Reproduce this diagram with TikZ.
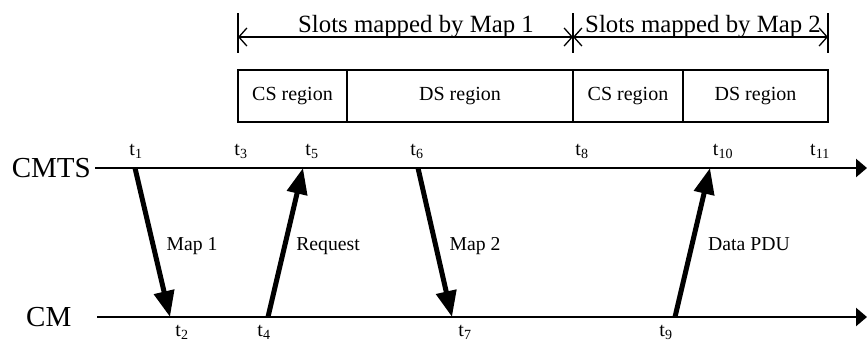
\documentclass[tikz,border=0pt]{standalone}
\usepackage{fontspec}
\setmainfont{Liberation Serif}
\usetikzlibrary{arrows.meta}

\begin{document}
\begin{tikzpicture}[x=1pt,y=-1pt,
  axis/.style={line width=2.4pt,-{Triangle[length=11pt,width=18pt]}},
  msg/.style={line width=5pt,-{Triangle[length=26pt,width=20pt]}},
  dimtip/.style={line width=1.3pt,{Straight Barb[length=8pt,width=18pt]}-{Straight Barb[length=8pt,width=18pt]}},
  tickmark/.style={line width=2.6pt},
  region/.style={draw,line width=2.6pt,minimum height=52pt,inner sep=0pt,
    font=\fontsize{20}{20}\selectfont},
  tlabel/.style={anchor=base,inner sep=0pt,font=\fontsize{20}{20}\selectfont},
  msglabel/.style={anchor=base,inner sep=0pt,font=\fontsize{19.7}{20}\selectfont},
  party/.style={anchor=base,inner sep=0pt,font=\fontsize{29}{29}\selectfont},
  span/.style={anchor=base,inner sep=0pt,font=\fontsize{24.8}{25}\selectfont}
]
\useasboundingbox (0,0) rectangle (867,341);

% time axes
\coordinate (cmtsS) at (95,168);
\coordinate (cmtsE) at (867,168);
\coordinate (cmS) at (97,317);
\coordinate (cmE) at (867,317);
\node[party,anchor=base east] (cmtsL) at (91,177) {CMTS};
\node[party,anchor=base west] (cmL) at (26,326) {CM};
\draw[axis] (cmtsS) -- (cmtsE);
\draw[axis] (cmS) -- (cmE);

% event instants on the CMTS axis
\coordinate (t1) at (135,168);
\coordinate (t5) at (303,168);
\coordinate (t6) at (418,168);
\coordinate (t10) at (710,168);
% event instants on the CM axis
\coordinate (t2) at (170,317);
\coordinate (t4) at (268,317);
\coordinate (t7) at (452,317);
\coordinate (t9) at (675,317);

% messages
\draw[msg] (t1) -- (t2);
\draw[msg] (t4) -- (t5);
\draw[msg] (t6) -- (t7);
\draw[msg] (t9) -- (t10);

\node[msglabel] (m1) at (192,250) {Map 1};
\node[msglabel] (rq) at (328,250) {Request};
\node[msglabel] (m2) at (475,250) {Map 2};
\node[msglabel] (dp) at (749,250) {Data PDU};

% time labels
\node[tlabel] (lt1) at (136,155) {t\textsubscript{1}};
\node[tlabel] (lt3) at (241,155) {t\textsubscript{3}};
\node[tlabel] (lt5) at (312,155) {t\textsubscript{5}};
\node[tlabel] (lt6) at (417,155) {t\textsubscript{6}};
\node[tlabel] (lt8) at (582,155) {t\textsubscript{8}};
\node[tlabel] (lt10) at (723,155) {t\textsubscript{10}};
\node[tlabel] (lt11) at (820,155) {t\textsubscript{11}};
\node[tlabel] (lt2) at (182,336) {t\textsubscript{2}};
\node[tlabel] (lt4) at (264,336) {t\textsubscript{4}};
\node[tlabel] (lt7) at (465,336) {t\textsubscript{7}};
\node[tlabel] (lt9) at (666,336) {t\textsubscript{9}};

% slot regions
\node[region,minimum width=109pt] (cs1) at (292.5,96) {CS region};
\node[region,minimum width=226pt] (ds1) at (460,96) {DS region};
\node[region,minimum width=110pt] (cs2) at (628,96) {CS region};
\node[region,minimum width=145pt] (ds2) at (755.5,96) {DS region};

% extent of each map
\coordinate (k1a) at (238,13);
\coordinate (k1b) at (238,53);
\coordinate (k2a) at (573,13);
\coordinate (k2b) at (573,53);
\coordinate (k3a) at (828,13);
\coordinate (k3b) at (828,53);
\draw[tickmark] (k1a) -- (k1b);
\draw[tickmark] (k2a) -- (k2b);
\draw[tickmark] (k3a) -- (k3b);
\coordinate (d1) at (238,37);
\coordinate (d2) at (573,37);
\coordinate (d3) at (828,37);
\draw[dimtip] (d1) -- (d2);
\draw[dimtip] (d2) -- (d3);
\node[span] (s1) at (416,32) {Slots mapped by Map 1};
\node[span] (s2) at (703,32) {Slots mapped by Map 2};
\end{tikzpicture}
\end{document}
